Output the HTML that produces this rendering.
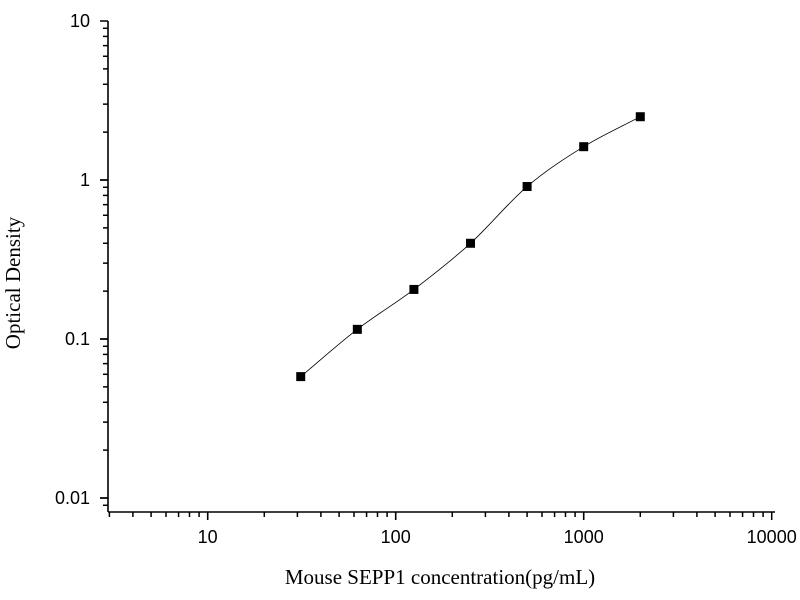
<!DOCTYPE html><html><head><style>body{margin:0;background:#fff}svg{display:block}</style></head><body>
<svg id="s" width="800" height="600" xmlns="http://www.w3.org/2000/svg" font-family="Liberation Sans, sans-serif"></svg>
<script>
const s=document.getElementById('s');let h='';
const X0=108,Y0=512,x10=207.7,dx=188,y1=180,dy=159;
const px=v=>x10+(Math.log10(v)-1)*dx, py=v=>y1-Math.log10(v)*dy;
h+=`<line x1="${X0}" y1="21" x2="${X0}" y2="${Y0}" stroke="#000" stroke-width="1.6"/>`;
h+=`<line x1="${X0}" y1="${Y0}" x2="775" y2="${Y0}" stroke="#000" stroke-width="1.6"/>`;
for(let d=-3;d<=0;d++)for(let m=1;m<=10;m++){const val=m*Math.pow(10,d);const y=py(val);if(y<20||y>Y0+0.5)continue;const maj=(m==1||m==10);h+=`<line x1="${X0-(maj?8:5)}" y1="${y}" x2="${X0}" y2="${y}" stroke="#000" stroke-width="1.5"/>`;}
[[10,'10'],[1,'1'],[0.1,'0.1'],[0.01,'0.01']].forEach(([v,t])=>h+=`<text x="90" y="${py(v)+6}" font-size="18" text-anchor="end">${t}</text>`);
for(let d=0;d<=3;d++)for(let m=1;m<=10;m++){const val=m*Math.pow(10,d);const x=px(val);if(x<X0-0.5||x>776)continue;const maj=(m==1||m==10);h+=`<line x1="${x}" y1="${Y0}" x2="${x}" y2="${Y0+(maj?8:5)}" stroke="#000" stroke-width="1.5"/>`;}
[[10,'10'],[100,'100'],[1000,'1000'],[10000,'10000']].forEach(([v,t])=>h+=`<text x="${px(v)}" y="543" font-size="18" text-anchor="middle">${t}</text>`);
h+=`<text x="440" y="584" font-family="Liberation Serif, serif" font-size="21" text-anchor="middle">Mouse SEPP1 concentration(pg/mL)</text>`;
h+=`<text transform="translate(20,283) rotate(-90)" font-family="Liberation Serif, serif" font-size="21" text-anchor="middle">Optical Density</text>`;
const D=[[31.25,0.058],[62.5,0.115],[125,0.205],[250,0.4],[500,0.91],[1000,1.62],[2000,2.5]];
const P=D.map(([x,y])=>[px(x),py(y)]);
const Q=[[2*P[0][0]-P[1][0],2*P[0][1]-P[1][1]],...P,[2*P[6][0]-P[5][0],2*P[6][1]-P[5][1]]];
let p=`M${P[0][0]},${P[0][1]}`;
for(let i=1;i<Q.length-2;i++){const a=Q[i-1],b=Q[i],c=Q[i+1],d=Q[i+2];
p+=`C${b[0]+(c[0]-a[0])/6},${b[1]+(c[1]-a[1])/6} ${c[0]-(d[0]-b[0])/6},${c[1]-(d[1]-b[1])/6} ${c[0]},${c[1]}`;}
h+=`<path d="${p}" fill="none" stroke="#000" stroke-width="0.8"/>`;
D.forEach(([x,y])=>h+=`<rect x="${px(x)-4.5}" y="${py(y)-4.5}" width="9" height="9" fill="#000"/>`);
s.innerHTML=h;
</script></body></html>
